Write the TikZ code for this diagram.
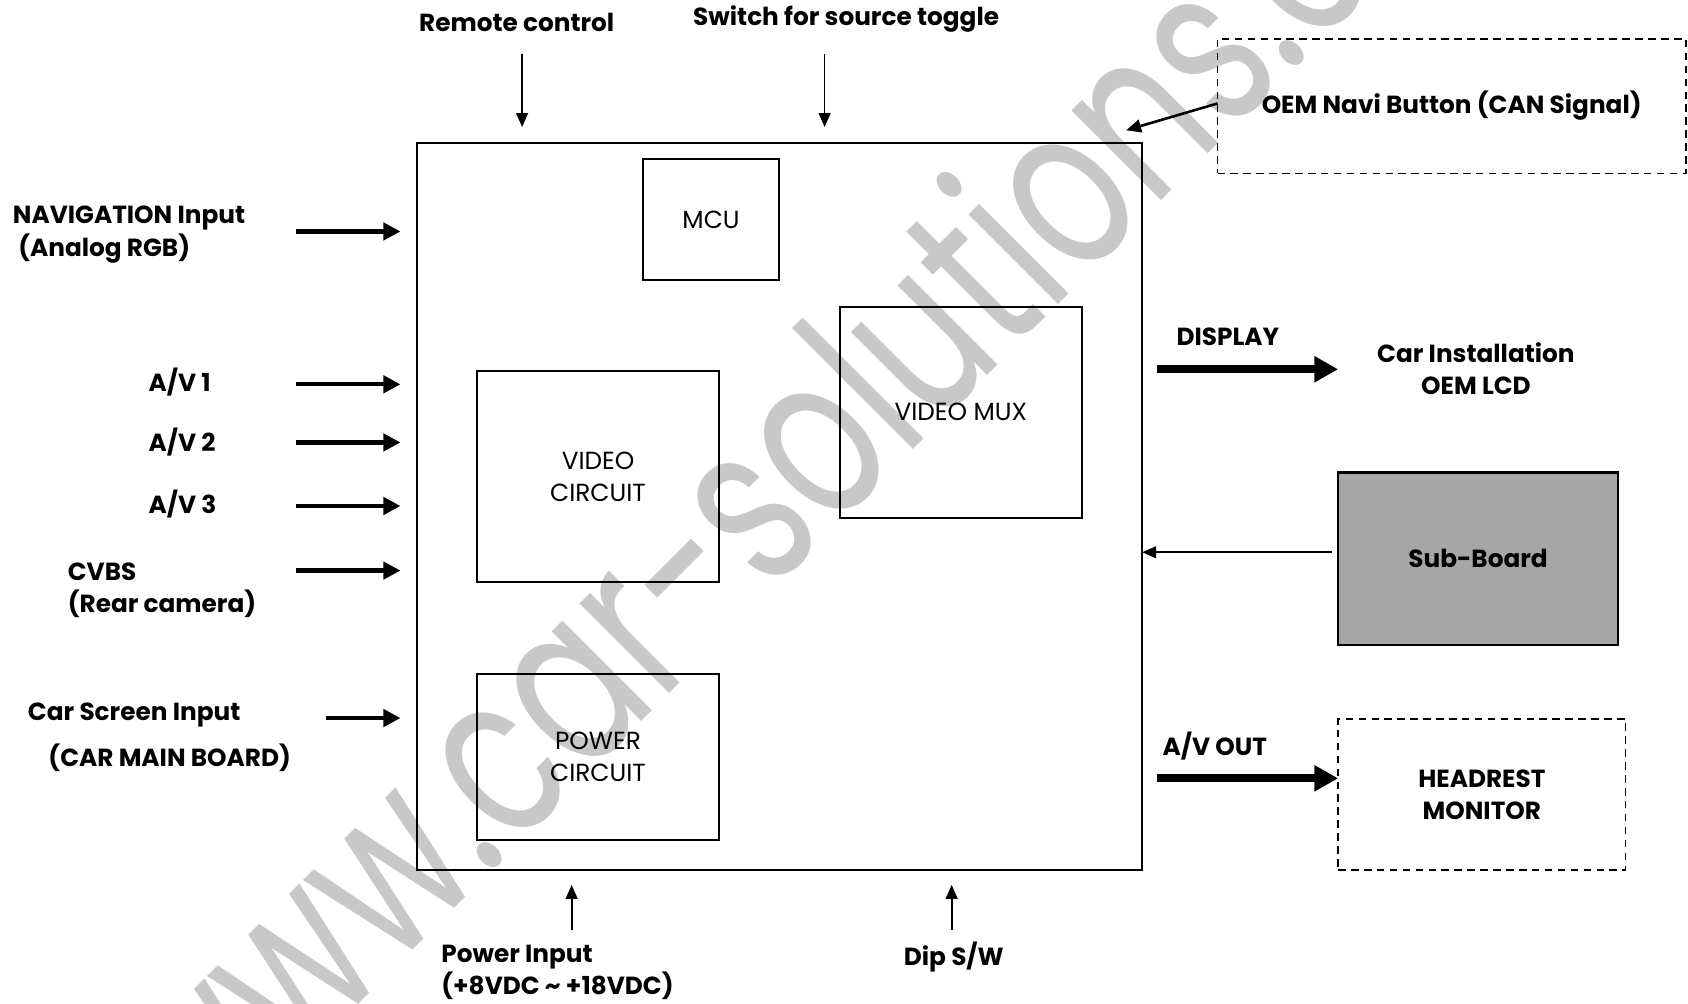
\documentclass[tikz,border=0pt]{standalone}
\usepackage{fontspec}
\setmainfont{Poppins}
\usetikzlibrary{arrows.meta}
\definecolor{wm}{RGB}{200,200,200}
\definecolor{subfill}{RGB}{166,166,166}
\begin{document}
\begin{tikzpicture}[x=0.5pt,y=-0.5pt,
  lbl/.style={font=\bfseries\fontsize{11.5}{15}\selectfont, inner sep=0pt, outer sep=0pt},
  inlbl/.style={font=\fontsize{11.5}{15}\selectfont, align=center},
  blk/.style={draw, line width=1pt, inner sep=0pt, outer sep=0pt},
  thinarr/.style={line width=0.8pt, -{Triangle[length=6.5pt,width=5.5pt]}},
  medarr/.style={line width=1.2pt, -{Triangle[length=7pt,width=6pt]}},
  fatarr/.style={line width=2pt, -{Triangle[length=8pt,width=8pt]}},
  bigarr/.style={line width=3.8pt, -{Triangle[length=11pt,width=11.5pt]}},
  dashbox/.style={draw, line width=0.75pt, dash pattern=on 3.5pt off 2.5pt, inner sep=0pt, outer sep=0pt}
]
\useasboundingbox (0,0) rectangle (1568,932);
\begin{scope}
\clip (0,0) rectangle (1568,932);
\node[text=wm, font=\fontsize{88}{88}\selectfont, rotate=45, anchor=base, inner sep=0pt] (wmark) at (826,440) {\scalebox{0.87}[1.22]{www.car-solutions.com}};
\end{scope}

% main board and blocks
\node[blk, minimum width=337pt, minimum height=337.5pt] (main) at (724,470.5) {};
\node[blk, inlbl, minimum width=63.5pt, minimum height=56pt] (mcu) at (660.5,204) {MCU};
\node[blk, inlbl, minimum width=112.5pt, minimum height=98pt] (mux) at (892.5,383) {VIDEO MUX};
\node[blk, inlbl, minimum width=112.5pt, minimum height=98pt] (vc) at (555.5,443) {VIDEO\\CIRCUIT};
\node[blk, inlbl, minimum width=112.5pt, minimum height=77pt] (pc) at (555.5,703) {POWER\\CIRCUIT};

% top
\node[lbl] (rc) at (480,21) {Remote control};
\node[lbl] (sw) at (786,18) {Switch for source toggle};
\coordinate (rcA) at (485,50);
\coordinate (swA) at (766,50);
\draw[thinarr, shorten >=7.5pt] (rcA) -- (rcA |- main.north);
\draw[thinarr, shorten >=7.5pt] (swA) -- (swA |- main.north);

\node[dashbox, lbl, minimum width=217.5pt, minimum height=62.5pt] (oem) at (1348.5,98.5) {OEM Navi Button (CAN Signal)};
\coordinate (oemT) at (1046,121);
\draw[medarr] ([yshift=1.2pt]oem.west) -- (oemT);

% left inputs
\node[lbl, anchor=west, align=left] (nav) at (12,218) {NAVIGATION Input\\\hspace{2.5pt}(Analog RGB)};
\node[lbl, anchor=west] (av1) at (138,355) {A/V 1};
\node[lbl, anchor=west] (av2) at (138,411) {A/V 2};
\node[lbl, anchor=west] (av3) at (138,468) {A/V 3};
\node[lbl, anchor=west, align=left] (cvbs) at (63,548) {CVBS\\(Rear camera)};
\node[lbl, anchor=west] (cs1) at (26,664) {Car Screen Input};
\node[lbl, anchor=west] (cs2) at (45,704) {(CAR MAIN BOARD)};

\coordinate (navA) at (275,215);
\coordinate (av1A) at (275,357);
\coordinate (av2A) at (275,411);
\coordinate (av3A) at (275,470);
\coordinate (cvA) at (275,530);
\coordinate (csA) at (303,667);
\foreach \c in {navA,av1A,av2A,av3A,cvA,csA}
  \draw[fatarr, shorten >=7.5pt] (\c) -- (\c -| main.west);

% right side
\node[lbl, anchor=west] (disp) at (1093,313) {DISPLAY};
\node[lbl, align=center] (lcd) at (1371,342.5) {Car Installation\\OEM LCD};
\coordinate (dispA) at (1075,343);
\coordinate (dispB) at (1243,343);
\draw[bigarr] (dispA) -- (dispB);

\node[blk, lbl, line width=1.25pt, fill=subfill, minimum width=130pt, minimum height=80pt] (sub) at (1373,519) {Sub-Board};
\coordinate (subA) at (1237,513);
\draw[thinarr] (subA) -- (subA -| main.east);

\node[lbl, anchor=west] (avo) at (1080,693) {A/V OUT};
\node[dashbox, lbl, align=center, minimum width=133.5pt, minimum height=70pt] (hr) at (1376.5,738) {HEADREST\\MONITOR};
\coordinate (avoA) at (1075,723);
\draw[bigarr] (avoA) -- (avoA -| hr.west);

% bottom
\coordinate (pwA) at (531,864);
\coordinate (dipA) at (884,864);
\draw[thinarr, shorten >=7pt] (pwA) -- (pwA |- main.south);
\draw[thinarr, shorten >=7pt] (dipA) -- (dipA |- main.south);
\node[lbl, anchor=west, align=left] (pw) at (410,903.5) {Power Input\\(+8VDC \textasciitilde{} +18VDC)};
\node[lbl] (dip) at (886,889) {Dip S/W};
\end{tikzpicture}
\end{document}
